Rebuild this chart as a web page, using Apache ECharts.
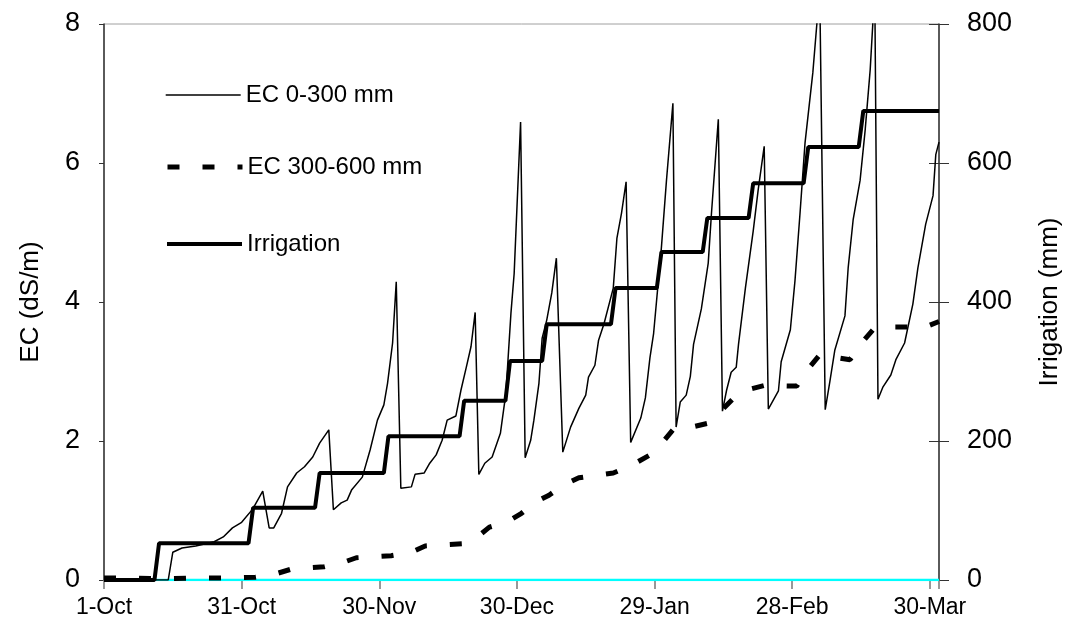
<!DOCTYPE html>
<html>
<head>
<meta charset="utf-8">
<script src="https://cdn.jsdelivr.net/npm/echarts@6/dist/echarts.min.js"></script>
<style>html,body{margin:0;padding:0;background:#fff;}#chart{width:1071px;height:635px;}</style>
</head>
<body>
<div id="chart"></div>
<script>
// Day offsets from 1-Oct, x tick labels every 30 days
var tickLabels = ['1-Oct','31-Oct','30-Nov','30-Dec','29-Jan','28-Feb','30-Mar'];
var leftTicks = [0,2,4,6,8];
var rightTicks = [0,200,400,600,800];

// EC 0-300 mm (dS/m): [day, value]
var ec0300 = [[0,0],[14,0],[15,0.40],[17,0.46],[20,0.49],[24,0.55],[26,0.62],[28,0.75],[30,0.83],[32.4,1.02],[34.6,1.28],[36,0.75],[37,0.75],[38.7,0.96],[40,1.34],[42,1.54],[43.7,1.63],[45.5,1.77],[47,1.97],[49,2.16],[50,1.01],[51.7,1.11],[53,1.15],[54,1.3],[56.3,1.48],[58,1.87],[59.6,2.3],[61,2.52],[61.8,2.83],[62.9,3.41],[63.7,4.29],[64.7,1.32],[67,1.34],[67.8,1.52],[69.8,1.54],[71,1.68],[72.4,1.80],[73.7,2.01],[74.8,2.30],[76.7,2.36],[77.8,2.73],[79,3.07],[80,3.36],[80.9,3.85],[81.7,1.52],[83,1.68],[84.6,1.77],[86.4,2.11],[87.6,2.69],[88.7,3.84],[89.4,4.41],[90.8,6.59],[91.8,1.76],[93,2.01],[93.7,2.3],[94.8,2.83],[95.5,3.48],[96.5,3.74],[97.6,4.13],[98.6,4.63],[100,1.84],[101.7,2.2],[103.5,2.47],[105,2.66],[105.6,2.92],[107,3.09],[107.8,3.45],[109,3.69],[111,4.2],[111.8,4.92],[112.8,5.28],[113.8,5.73],[114.8,1.98],[117,2.33],[118,2.62],[119,3.2],[119.8,3.55],[121.5,4.79],[122.6,5.75],[124,6.86],[124.7,2.2],[125.6,2.56],[126.9,2.66],[127.8,2.93],[128.5,3.39],[130.2,3.9],[131.7,4.56],[132.4,5.27],[133.9,6.63],[134.8,2.43],[135.7,2.73],[136.7,2.99],[137.8,3.06],[138.3,3.39],[139.8,4.2],[141.5,5.02],[142.6,5.62],[143.9,6.24],[144.8,2.46],[147,2.72],[147.6,3.14],[149.6,3.6],[150.6,4.3],[151.7,5.27],[152.8,6.29],[154.5,7.3],[156,8.5],[157.2,2.45],[158.2,2.85],[159.3,3.31],[161.5,3.8],[162.2,4.49],[163.3,5.19],[164.8,5.75],[165.9,6.47],[167,7.34],[168,8.5],[168.7,2.6],[169.8,2.78],[171.5,2.95],[172.6,3.17],[174.5,3.41],[176.3,3.97],[177.4,4.49],[179.1,5.12],[180.7,5.53],[181.3,6.12],[182,6.3]];

// EC 300-600 mm (dS/m): [day, value]
var ec300600 = [[0,0.03],[6,0.03],[10,0.02],[14,0.02],[20,0.03],[27,0.03],[33,0.04],[37,0.08],[41,0.16],[48,0.19],[52,0.25],[55,0.32],[62.6,0.35],[67,0.4],[70,0.49],[78,0.52],[81,0.6],[84,0.76],[88,0.84],[91,0.96],[94,1.12],[97,1.22],[100,1.36],[103.5,1.47],[111,1.54],[115,1.65],[119,1.8],[122,2.0],[124,2.16],[128,2.2],[132,2.26],[134,2.4],[137,2.6],[141,2.75],[144,2.8],[151,2.79],[153,3.0],[156,3.24],[162.6,3.17],[165,3.4],[167.6,3.6],[171,3.64],[179,3.64],[182,3.72]];

// Cumulative irrigation (mm): [day, value]
var irrigation = [[0,0],[11,0],[12,53],[31.5,53],[32.5,104],[46,104],[47,154],[61,154],[62,207],[77.5,207],[78.5,258],[87.5,258],[88.5,315],[95.5,315],[96.5,368],[110.5,368],[111.5,420],[120.5,420],[121.5,472],[130.5,472],[131.5,521],[140.5,521],[141.5,571],[152.5,571],[153.5,623],[164.5,623],[165.5,675],[182,675]];

// Zero baseline series (cyan)
var baseline = [[11,0],[182,0]];

var FONT = 'Liberation Sans, Arial, sans-serif';
var chart = echarts.init(document.getElementById('chart'), null, {renderer:'canvas'});
function legendAt(name, top, ls){
  return {data:[name], left:160, top:top, itemWidth:75, itemHeight:14,
    itemStyle:{opacity:0, borderWidth:0}, lineStyle:ls,
    textStyle:{fontFamily:FONT, fontSize:24, color:'#000'}, selectedMode:false};
}
chart.setOption({
  animation:false,
  backgroundColor:'#fff',
  grid:{left:104, right:131, top:24, bottom:55, show:true, borderColor:'#a0a0a0', borderWidth:1},
  legend:[
    legendAt('EC 0-300 mm',78,{color:'#000', width:1.4, type:'solid', opacity:1}),
    legendAt('EC 300-600 mm',150,{color:'#000', width:5, type:[12,23], opacity:1}),
    legendAt('Irrigation',227,{color:'#000', width:4, type:'solid', opacity:1})
  ],
  xAxis:{type:'value', min:0, max:182, interval:30,
    axisLine:{show:true, onZero:false, lineStyle:{color:'#333', width:1}},
    axisTick:{show:true, inside:false, length:9, lineStyle:{color:'#777', width:1.5}},
    splitLine:{show:false},
    axisLabel:{margin:16, fontFamily:FONT, fontSize:23, color:'#000',
      formatter:function(v){ var i=Math.round(v/30); return (Math.abs(v-i*30)<1e-6 && tickLabels[i]) ? tickLabels[i] : ''; }}
  },
  yAxis:[
    {type:'value', min:0, max:8, interval:2, position:'left',
      name:'EC (dS/m)', nameLocation:'middle', nameRotate:90, nameGap:60,
      nameTextStyle:{fontFamily:FONT, fontSize:26, color:'#000'},
      axisLine:{show:true, lineStyle:{color:'#333', width:1.5}},
      axisTick:{show:true, inside:false, length:5, lineStyle:{color:'#333'}},
      splitLine:{show:false},
      axisLabel:{margin:24, fontFamily:FONT, fontSize:27, color:'#000',
        formatter:function(v){ return leftTicks.indexOf(v)>=0 ? String(v) : ''; }}
    },
    {type:'value', min:0, max:800, interval:200, position:'right',
      name:'Irrigation (mm)', nameLocation:'middle', nameRotate:90, nameGap:98,
      nameTextStyle:{fontFamily:FONT, fontSize:26, color:'#000'},
      axisLine:{show:true, lineStyle:{color:'#333', width:1.5}},
      axisTick:{show:true, inside:false, length:10, lineStyle:{color:'#333'}},
      splitLine:{show:false},
      axisLabel:{margin:28, fontFamily:FONT, fontSize:27, color:'#000',
        formatter:function(v){ return rightTicks.indexOf(v)>=0 ? String(v) : ''; }}
    },
    {type:'value', min:0, max:800, interval:200, position:'right',
      axisLine:{show:false}, axisLabel:{show:false}, splitLine:{show:false},
      axisTick:{show:true, inside:true, length:10, lineStyle:{color:'#333'}}
    }
  ],
  series:[
    {name:'Zero', type:'line', yAxisIndex:0, data:baseline, symbol:'none', silent:true,
      lineStyle:{color:'#00FFFF', width:2.5}, z:1},
    {name:'EC 0-300 mm', type:'line', yAxisIndex:0, data:ec0300, symbol:'none', clip:true,
      color:'#000', lineStyle:{color:'#000', width:1.5}},
    {name:'EC 300-600 mm', type:'line', yAxisIndex:0, data:ec300600, symbol:'none', clip:true,
      color:'#000', lineStyle:{color:'#000', width:5, type:[12,23]}},
    {name:'Irrigation', type:'line', yAxisIndex:1, data:irrigation, symbol:'none', clip:true,
      color:'#000', lineStyle:{color:'#000', width:4}}
  ]
});
</script>
</body>
</html>
